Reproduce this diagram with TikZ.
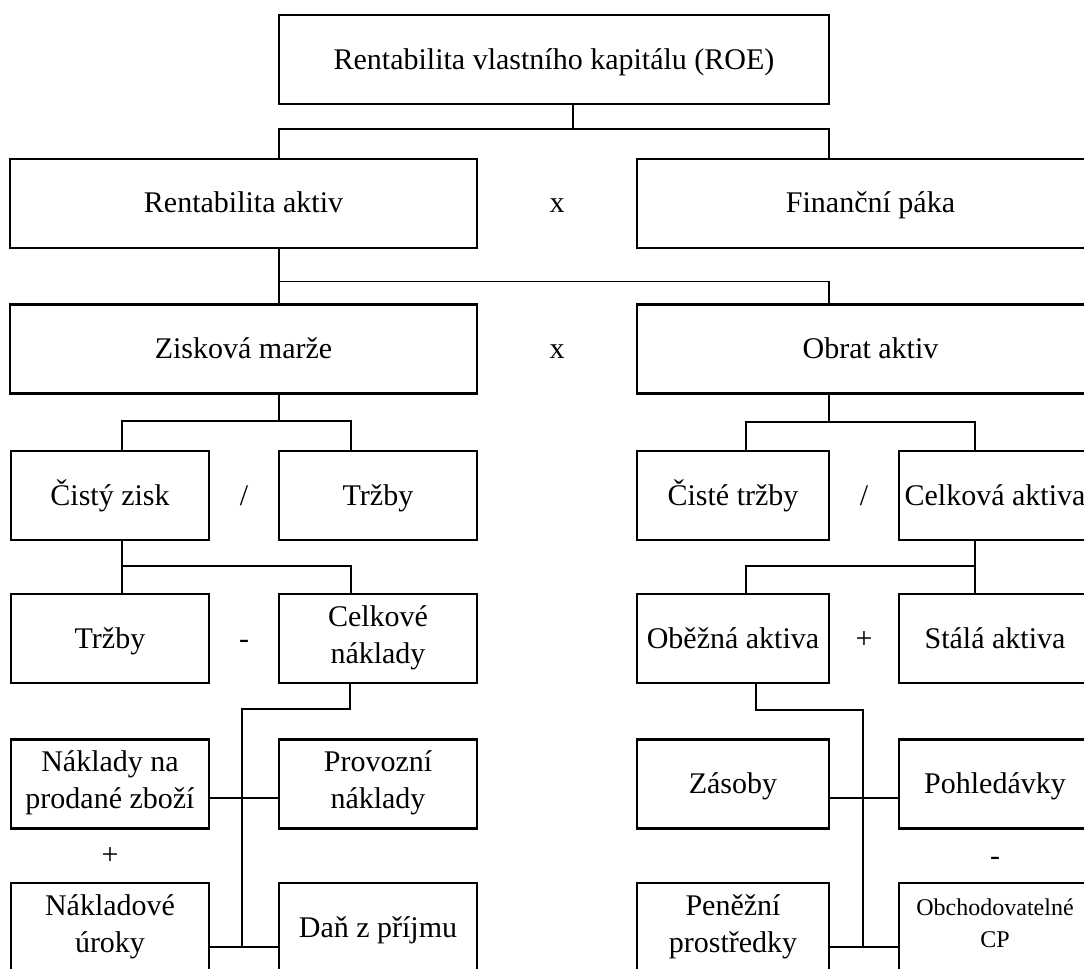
\documentclass[tikz,border=0pt]{standalone}
\usepackage{fontspec}
\setmainfont{Liberation Serif}
\usetikzlibrary{positioning,calc}

\begin{document}
\begin{tikzpicture}[x=0.5pt,y=-0.5pt,font=\fontsize{15}{18.5}\selectfont,
    box/.style={draw,line width=1.4pt,inner sep=0pt,outer sep=0pt,minimum height=44.5pt,align=center,
      execute at begin node={\rule{0pt}{13.5pt}},execute at end node={\rule[-4pt]{0pt}{4pt}}},
    wide/.style={box,minimum width=233.5pt},
    lbox/.style={box,minimum width=99pt},
    rbox/.style={box,minimum width=96pt},
    op/.style={anchor=base,inner sep=0pt},
    link/.style={line width=0.7pt}]
  \useasboundingbox (0,0) rectangle (1084,969);
  \clip (0,0) rectangle (1084,969);
  % pyramida ROE
  \node[box,minimum width=275pt] (roe) at (554,59.5) {Rentabilita vlastního kapitálu (ROE)};
  \node[wide] (roa) at (243.5,203.5) {Rentabilita aktiv};
  \node[wide,right=80pt of roa] (fin) {Finanční páka};
  \node[wide] (zm) at (243.5,349) {Zisková marže};
  \node[wide,right=80pt of zm] (obr) {Obrat aktiv};
  % levá větev
  \node[lbox] (cz) at (110,495.5) {Čistý zisk};
  \node[lbox,right=35pt of cz] (trz) {Tržby};
  \node[lbox] (trz2) at (110,638.5) {Tržby};
  \node[lbox,right=35pt of trz2] (celk) {Celkové\\náklady};
  \node[lbox] (nps) at (110,784) {Náklady na\\prodané zboží};
  \node[lbox,right=35pt of nps] (prov) {Provozní\\náklady};
  \node[lbox] (nu) at (110,927.5) {Nákladové\\úroky};
  \node[lbox,right=35pt of nu] (dan) {Daň z příjmu};
  % pravá větev
  \node[rbox] (ct) at (733,495.5) {Čisté tržby};
  \node[rbox,right=35pt of ct] (ca) {Celková aktiva};
  \node[rbox] (oba) at (733,638.5) {Oběžná aktiva};
  \node[rbox,right=35pt of oba] (sta) {Stálá aktiva};
  \node[rbox] (zas) at (733,784) {Zásoby};
  \node[rbox,right=35pt of zas] (poh) {Pohledávky};
  \node[rbox] (pp) at (733,927.5) {Peněžní\\prostředky};
  \node[rbox,right=35pt of pp,font=\fontsize{12}{16}\selectfont] (ocp) {Obchodovatelné\\CP};
  % operatory
  \node[op] (op1) at ($(roa.base east)!.5!(fin.base west)$) {x};
  \node[op] (op2) at ($(zm.base east)!.5!(obr.base west)$) {x};
  \node[op] (op3) at ($(cz.base east)!.5!(trz.base west)$) {/};
  \node[op] (op4) at ($(ct.base east)!.5!(ca.base west)$) {/};
  \node[yshift=-3pt] (op5) at ($(trz2.east)!.5!(celk.west)$) {-};
  \node[op] (op6) at ($(oba.base east)!.5!(sta.base west)$) {+};
  \node (op7) at ($(nps.south)!.5!(nu.north)$) {+};
  \node[yshift=-3pt] (op8) at ($(poh.south)!.5!(ocp.north)$) {-};
  % spojnice
  \draw[link] ([xshift=9.5pt]roe.south) -- ++(0,25);
  \draw[link] (roa.north -| roe.west) -- ++(0,-30) -| (fin.north -| roe.east);
  \draw[link] (roa.south -| roe.west) -- (zm.north -| roe.west);
  \draw[link] (zm.north -| roe.west) ++(0,-23) -| (obr.north -| roe.east);
  \draw[link] (zm.south -| roe.west) -- ++(0,28);
  \draw[link] ([xshift=6pt]cz.north) -- ++(0,-30) -| ([xshift=-13.5pt]trz.north);
  \draw[link] (obr.south -| roe.east) -- ++(0,29);
  \draw[link] ([xshift=6.5pt]ct.north) -- ++(0,-29) -| ([xshift=-10pt]ca.north);
  \draw[link] ([xshift=6pt]cz.south) -- ([xshift=6pt]trz2.north);
  \draw[link] ([xshift=6pt]cz.south) ++(0,26) -| ([xshift=-13.5pt]celk.north);
  \draw[link] ([xshift=-10pt]ca.south) -- ([xshift=-10pt]sta.north);
  \draw[link] ([xshift=-10pt]ca.south) ++(0,26) -| ([xshift=6.5pt]oba.north);
  \draw[link] ([xshift=-14pt]celk.south) -- ++(0,26) -| ([xshift=16.5pt,yshift=-9.75pt]nu.east);
  \draw[link] ([yshift=-7pt]nps.east) -- ([yshift=-7pt]prov.west);
  \draw[link] ([yshift=-9.75pt]nu.east) -- ([yshift=-9.75pt]dan.west);
  \draw[link] ([xshift=11.5pt]oba.south) -- ++(0,27) -| ([xshift=17pt,yshift=-9.75pt]pp.east);
  \draw[link] ([yshift=-7pt]zas.east) -- ([yshift=-7pt]poh.west);
  \draw[link] ([yshift=-9.75pt]pp.east) -- ([yshift=-9.75pt]ocp.west);
\end{tikzpicture}
\end{document}
